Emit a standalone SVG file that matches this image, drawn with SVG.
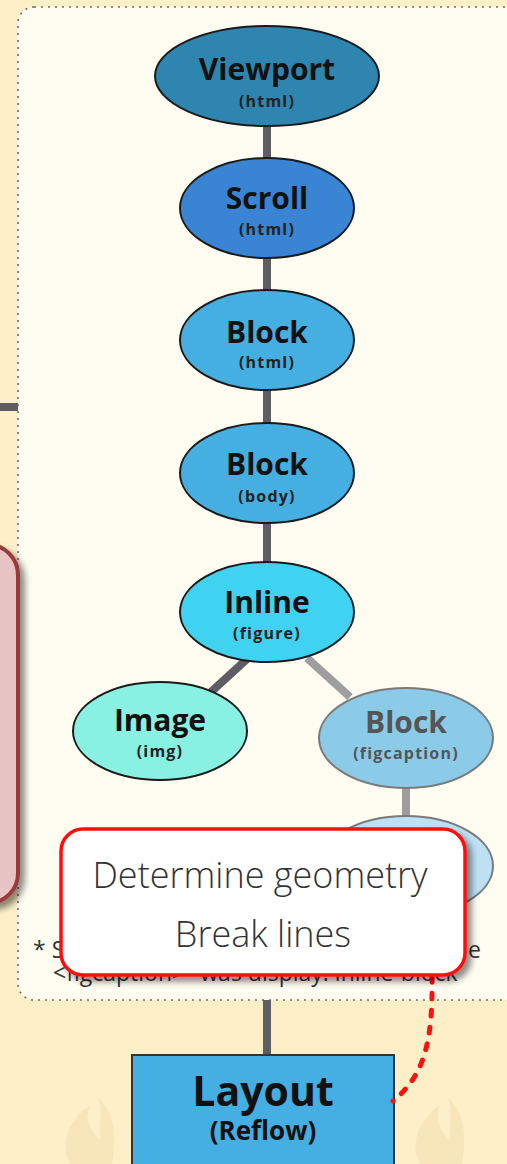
<svg xmlns="http://www.w3.org/2000/svg" width="507" height="1164" viewBox="0 0 507 1164">
  <defs>
    <style>
      .node { stroke: #1a1a1a; stroke-width: 2; }
      .node-faded { stroke: #7a7a7a; stroke-width: 2; }
      .title { font-family: "Open Sans", "Noto Sans", "DejaVu Sans", sans-serif; font-weight: 700; font-size: 30px; text-anchor: middle; fill: #111; }
      .sub { font-family: "Open Sans", "Noto Sans", "DejaVu Sans", sans-serif; font-weight: 700; font-size: 16px; letter-spacing: 1.2px; text-anchor: middle; fill: #222; }
      .faded { fill: #555; }
      .stage-title { font-size: 41px; }
      .stage-sub { font-size: 26px; }
      .edge { stroke: #5f5d64; stroke-width: 8; fill: none; }
      .edge-faded { stroke: #9e9e9e; stroke-width: 8; fill: none; }
      .note { font-family: "Open Sans", "Noto Sans", "DejaVu Sans", sans-serif; font-size: 23px; fill: #333; }
      .popup-text { font-family: "Open Sans", "Noto Sans", "DejaVu Sans", sans-serif; font-weight: 300; font-size: 36px; fill: #333; text-anchor: middle; }
      .flame { fill: #f7e6ba; }
    </style>
    <filter id="shadow" x="-20%" y="-20%" width="150%" height="150%">
      <feGaussianBlur in="SourceAlpha" stdDeviation="3"/>
      <feOffset dx="5" dy="5" result="blur"/>
      <feComponentTransfer><feFuncA type="linear" slope="0.45"/></feComponentTransfer>
      <feMerge><feMergeNode/><feMergeNode in="SourceGraphic"/></feMerge>
    </filter>
  </defs>

  <!-- page background -->
  <rect x="0" y="0" width="507" height="1164" fill="#fdf0c9"/>

  <!-- faint flame decoration -->
  <g id="flames">
    <path class="flame" d="M70,1164 C58,1140 72,1118 90,1105 C84,1122 92,1132 100,1140 C98,1125 104,1110 98,1098 C112,1110 118,1130 112,1164 Z"/>
    <path class="flame" d="M420,1164 C408,1140 422,1118 440,1105 C434,1122 442,1132 450,1140 C448,1125 454,1110 448,1098 C462,1110 468,1130 462,1164 Z"/>
  </g>

  <!-- side link into the render tree panel -->
  <line x1="0" y1="407" x2="18" y2="407" stroke="#5f5d64" stroke-width="8"/>

  <!-- render tree panel -->
  <rect id="panel" x="18" y="7" width="520" height="993" rx="16" fill="#fffdf2" stroke="#6b6b72" stroke-width="1.6" stroke-dasharray="2 5"/>

  <!-- pink side panel -->
  <rect id="side-panel" x="-40" y="545" width="58" height="358" rx="30" fill="#e8c4c4" stroke="#9a3a3a" stroke-width="4" filter="url(#shadow)"/>

  <!-- footnote (mostly covered by the tooltip) -->
  <g id="footnote">
    <text class="note" x="33" y="958">* S</text>
    <text class="note" x="481" y="958" text-anchor="end">e</text>
    <text class="note" x="53" y="981">&lt;figcaption&gt;" was display: inline-block</text>
  </g>

  <!-- connectors -->
  <g id="connectors">
    <line class="edge" x1="267" y1="126" x2="267" y2="158"/>
    <line class="edge" x1="267" y1="258" x2="267" y2="290"/>
    <line class="edge" x1="267" y1="390" x2="267" y2="423"/>
    <line class="edge" x1="267" y1="523" x2="267" y2="562"/>
    <line class="edge" x1="247" y1="659" x2="211" y2="692"/>
    <line class="edge-faded" x1="307" y1="658" x2="350" y2="697"/>
    <line class="edge-faded" x1="406" y1="788" x2="406" y2="816"/>
    <line class="edge" x1="267" y1="1000" x2="267" y2="1056"/>
  </g>

  <!-- render tree nodes -->
  <g id="viewport">
    <ellipse class="node" cx="267" cy="76" rx="112" ry="50" fill="#2e86b0"/>
    <text class="title" x="267" y="80">Viewport</text>
    <text class="sub" x="267" y="107">(html)</text>
  </g>
  <g id="scroll">
    <ellipse class="node" cx="267" cy="208" rx="87" ry="50" fill="#3a84d4"/>
    <text class="title" x="267" y="209">Scroll</text>
    <text class="sub" x="267" y="235">(html)</text>
  </g>
  <g id="block-html">
    <ellipse class="node" cx="267" cy="340" rx="87" ry="50" fill="#46afe2"/>
    <text class="title" x="267" y="343">Block</text>
    <text class="sub" x="267" y="368">(html)</text>
  </g>
  <g id="block-body">
    <ellipse class="node" cx="267" cy="473" rx="87" ry="50" fill="#46afe2"/>
    <text class="title" x="267" y="475">Block</text>
    <text class="sub" x="267" y="502">(body)</text>
  </g>
  <g id="inline-figure">
    <ellipse class="node" cx="267" cy="612" rx="87" ry="50" fill="#3fd2f1"/>
    <text class="title" x="267" y="613">Inline</text>
    <text class="sub" x="267" y="639">(figure)</text>
  </g>
  <g id="image-img">
    <ellipse class="node" cx="160" cy="731" rx="87" ry="49" fill="#88f1e2"/>
    <text class="title" x="160" y="731">Image</text>
    <text class="sub" x="160" y="757">(img)</text>
  </g>
  <g id="block-figcaption">
    <ellipse class="node-faded" cx="406" cy="738" rx="87" ry="50" fill="#8ccbe8"/>
    <text class="title faded" x="406" y="733">Block</text>
    <text class="sub faded" x="406" y="759">(figcaption)</text>
  </g>
  <g id="figcaption-child">
    <ellipse class="node-faded" cx="406" cy="866" rx="87" ry="50" fill="#bde0f3"/>
  </g>

  <!-- layout stage -->
  <g id="layout">
    <rect x="132" y="1055" width="262" height="130" fill="#45aee2" stroke="#333" stroke-width="2"/>
    <text class="title stage-title" x="263" y="1106">Layout</text>
    <text class="title stage-sub" x="263" y="1140">(Reflow)</text>
  </g>

  <!-- tooltip link -->
  <path id="tooltip-link" d="M432,976 C433,1040 425,1075 393,1101" fill="none" stroke="#ff1010" stroke-width="5" stroke-linecap="round" stroke-dasharray="6 11"/>

  <!-- tooltip -->
  <g id="tooltip">
    <rect x="61" y="829" width="404" height="146" rx="22" fill="#ffffff" stroke="#ff1010" stroke-width="3.5" filter="url(#shadow)"/>
    <text class="popup-text" x="260" y="888">Determine geometry</text>
    <text class="popup-text" x="263" y="947">Break lines</text>
  </g>
</svg>
